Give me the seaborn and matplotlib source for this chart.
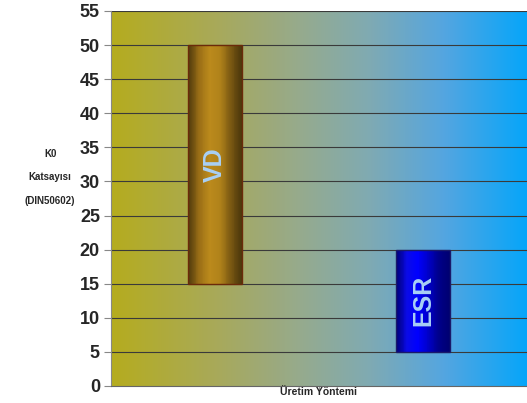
import numpy as np
import matplotlib
matplotlib.use("Agg")
import matplotlib.pyplot as plt
import seaborn as sns
import pandas as pd
from matplotlib.colors import LinearSegmentedColormap
from matplotlib.patches import Rectangle

# data
methods = ["VD", "ESR"]
low = [15, 5]
high = [50, 20]
y_ticks = list(range(0, 60, 5))

df = pd.DataFrame({"method": methods, "low": low, "high": high})
df["span"] = df["high"] - df["low"]

sns.set_style("white")
plt.rcParams["font.family"] = ["Liberation Sans", "DejaVu Sans"]

fig = plt.figure(figsize=(5.27, 4.03), dpi=100)
ax = fig.add_axes([0.2106, 0.0422, 0.7894, 0.9306])

# floating bars
sns.barplot(data=df, x="method", y="span", bottom=df["low"], width=0.255,
            color="white", edgecolor="#6b2a0a", linewidth=1.0, ax=ax, zorder=6)

ax.set_xlim(-0.5, 1.5)
ax.set_ylim(0, 55)

# background gradient
bg = LinearSegmentedColormap.from_list("bg", [
    (0.0, (0.71, 0.675, 0.12)),
    (0.25, (0.66, 0.665, 0.35)),
    (0.45, (0.59, 0.667, 0.55)),
    (0.62, (0.50, 0.667, 0.70)),
    (0.80, (0.33, 0.65, 0.88)),
    (1.0, (0.02, 0.65, 0.98)),
])
ax.imshow(np.linspace(0, 1, 256)[None, :], cmap=bg, aspect="auto",
          extent=(-0.5, 1.5, 0, 55), zorder=0)

# gridlines (behind the bars)
ax.grid(False)
ax.hlines(y_ticks[1:], -0.5, 1.5, color="#3a3a3a", linewidth=0.8, zorder=1)

# gradient fill inside bars, as thin vertical strips
bar_maps = {
    "VD": LinearSegmentedColormap.from_list("vd", ["#4f3a0c", "#9a6e16", "#bb8a1c",
                                                   "#b0821a", "#7a5812", "#4a360b"]),
    "ESR": LinearSegmentedColormap.from_list("esr", ["#00007a", "#0a0ae8", "#0000ff",
                                                    "#0000c8", "#00008a", "#000070"]),
}
edge = {"VD": "#6b2a0a", "ESR": "#1a1a6a"}
n_strips = 60
for patch, m in zip(ax.patches[:len(methods)], methods):
    x0, y0 = patch.get_x(), patch.get_y()
    w, h = patch.get_width(), patch.get_height()
    patch.set_facecolor("none")
    patch.set_edgecolor(edge[m])
    sw = w / n_strips
    for i in range(n_strips):
        ax.add_patch(Rectangle((x0 + i * sw, y0), sw * 1.05, h, linewidth=0,
                               facecolor=bar_maps[m]((i + 0.5) / n_strips), zorder=5))
    ax.text(x0 + w / 2, y0 + h / 2, m, rotation=90, ha="center", va="center",
            fontsize=18, fontweight="bold", color="#a8d0f5", zorder=7)

ax.set_xlim(-0.5, 1.5)
ax.set_ylim(0, 55)

# ticks
ax.set_yticks(y_ticks)
ax.set_yticklabels([str(t) for t in y_ticks], fontsize=13, fontweight="bold")
ax.tick_params(axis="y", left=True, length=5, width=0.8, color="#888888", pad=3)
ax.set_xticks([0.5])
ax.set_xticklabels([""])
ax.tick_params(axis="x", bottom=True, length=4, width=0.6, color="#888888")
for s in ["top", "right"]:
    ax.spines[s].set_visible(False)
ax.spines["left"].set_color("#888888")
ax.spines["bottom"].set_color("#666666")

ax.set_xlabel("")
ax.set_ylabel("")
fig.text(0.605, 1 - 392 / 403, "Üretim Yöntemi", ha="center", va="center",
         fontsize=7.5, fontweight="bold")
fig.text(0.095, 0.56, "K0\n\nKatsayısı\n\n(DIN50602)", ha="center", va="center",
         fontsize=7, fontweight="bold", linespacing=1.2)

fig.savefig("out.png", dpi=100)
